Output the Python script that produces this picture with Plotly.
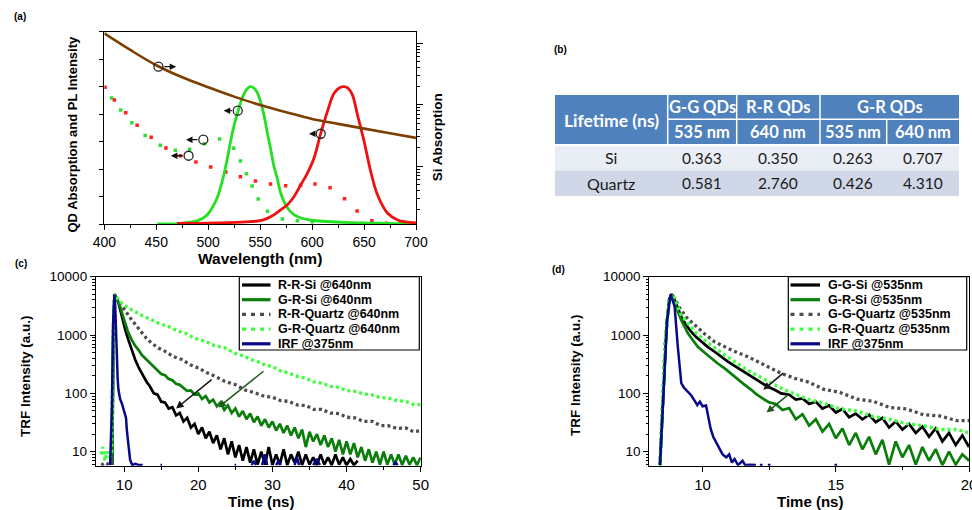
import math
import plotly.graph_objects as go

W, H = 972, 510
FONT = "Liberation Sans, Arial, Helvetica, sans-serif"
TFONT = "Lato, sans-serif"


def X(px):
    return px / W


def Y(py):
    return 1 - py / H


# ================= Panel (a) data =================
si_wl = [400, 425, 450, 475, 500, 525, 550, 575, 600, 625, 650, 675, 700]
si_abs = [1.45e5, 7.8e4, 4.4e4, 2.8e4, 1.93e4, 1.36e4, 9.9e3, 7.6e3, 5.9e3, 4.9e3, 4.1e3, 3.45e3, 2.9e3]

gpl_wl = [451, 470, 486, 493, 499, 504, 508.5, 512, 515, 518.5, 521.5, 525, 528, 531, 534, 537.5,
          540.7, 544, 547, 550, 553.5, 557, 560, 563, 566.5, 570, 576, 582.5, 590, 598.6, 610, 630,
          655, 680, 700]
gpl = [0.0, 0.003, 0.017, 0.035, 0.066, 0.12, 0.187, 0.27, 0.357, 0.48, 0.6, 0.72, 0.80, 0.88, 0.94,
       0.985, 1.0, 0.99, 0.96, 0.90, 0.80, 0.66, 0.55, 0.43, 0.33, 0.22, 0.12, 0.068, 0.042, 0.029,
       0.02, 0.012, 0.007, 0.003, 0.002]

rpl_wl = [470, 500, 520, 540, 550, 556.8, 563.2, 569.6, 576, 582.5, 589, 595.4, 601.8, 608.3, 614.7,
          621, 626, 630.2, 634.5, 638.8, 643.7, 650.1, 656.5, 663, 672.7, 682.3, 690, 700]
rpl = [0.004, 0.006, 0.010, 0.017, 0.024, 0.041, 0.066, 0.102, 0.138, 0.199, 0.284, 0.369, 0.478,
       0.660, 0.818, 0.950, 0.990, 1.000, 0.990, 0.940, 0.794, 0.600, 0.380, 0.211, 0.078, 0.029,
       0.015, 0.008]

gabs_wl = [407.1, 415.8, 426.5, 439.3, 453.9, 468.4, 482.1, 496.6, 511.0, 524.6, 531.0, 536.8,
           542.3, 548.1, 557.1, 571.3, 585.8, 600.2]
gabs = [0.917, 0.830, 0.738, 0.645, 0.573, 0.537, 0.544, 0.585, 0.619, 0.551, 0.459, 0.366, 0.277,
        0.182, 0.092, 0.036, 0.024, 0.017]

rabs_wl = [400.7, 409.7, 420.6, 431.6, 445.1, 459.3, 473.4, 488.2, 502.4, 516.9, 531.0, 545.5, 560.0,
           574.5, 589.0, 602.8, 617.3, 631.2, 643.3, 657.5, 671.7, 685.5]
rabs = [0.995, 0.903, 0.810, 0.719, 0.631, 0.553, 0.497, 0.451, 0.415, 0.379, 0.344, 0.313, 0.291,
        0.279, 0.282, 0.291, 0.264, 0.184, 0.095, 0.024, 0.005, 0.002]

# open-circle markers pointing to their axis
circ_si_wl = [452.1]
circ_si = [4.17e4]
circ_si_head = [469.2]
circ_wl = [528.4, 495.3, 481.1, 608.3]
circ_val = [0.825, 0.614, 0.497, 0.657]
circ_head = [514.9, 478.6, 464.1, 597.0]

# ================= Panel (b) table =================
tbl_corner = "Lifetime (ns)"
tbl_groups = ["G-G QDs", "R-R QDs", "G-R QDs"]
tbl_wls = ["535 nm", "640 nm", "535 nm", "640 nm"]
tbl_rows = ["Si", "Quartz"]
life_si = [0.363, 0.350, 0.263, 0.707]
life_quartz = [0.581, 2.760, 0.426, 4.310]

# ================= Panel (c) data =================
rr_si_t = [8.40, 8.55, 8.70, 9.00, 9.23, 9.50, 9.90, 10.20, 10.58, 11.00, 11.48, 12.00,
           12.5, 13.0, 13.5, 14.0, 14.5, 15.0, 15.5, 16.0, 16.5, 17.0, 17.5, 18.0, 18.5, 19.0,
           19.5, 20.0, 20.5, 21.0, 21.5, 22.0, 22.5, 23.0, 23.5, 24.0, 24.5, 25.0, 25.5, 26.0,
           26.5, 27.0, 27.5, 28.0, 28.5, 29.0, 29.5, 30.0, 30.5, 31.0, 31.5, 32.0, 32.5, 33.0,
           33.5, 34.0, 34.5, 35.0, 35.5, 36.0, 36.5, 37.0, 37.5, 38.0, 38.5, 39.0, 39.5, 40.0,
           40.5, 41.0, 41.5]
rr_si = [5.9, 1500, 5000, 4300, 3600, 2600, 1600, 1150, 820, 560, 380, 270,
         205, 160, 130, 100, 95, 72, 70, 55, 58, 42, 46, 33, 38, 26, 30, 20, 26, 17, 22, 14, 19,
         11, 17, 9, 15, 8, 13, 7, 12, 6.5, 11, 6, 10, 6, 12, 5.9, 9, 6, 11, 5.9, 9, 6.5, 10, 5.9,
         9, 6, 8, 5.9, 9, 6, 8, 5.9, 9, 6, 8, 5.9, 7.5, 5.9, 7]

gr_si_c_t = [8.40, 8.55, 8.70, 9.00, 9.46, 9.80, 10.13, 10.50, 11.04, 11.50, 12.00, 12.39, 13.00,
             13.50, 14.18, 14.50, 15.00, 15.50, 15.97, 16.50, 17.00, 17.50, 18.00,
             18.5, 19.0, 19.5, 20.0, 20.5, 21.0, 21.5, 22.0, 22.5, 23.0, 23.5, 24.0, 24.5, 25.0,
             25.5, 26.0, 26.5, 27.0, 27.5, 28.0, 28.5, 29.0, 29.5, 30.0, 30.5, 31.0, 31.5, 32.0,
             32.5, 33.0, 33.5, 34.0, 34.5, 35.0, 35.5, 36.0, 36.5, 37.0, 37.5, 38.0, 38.5, 39.0,
             39.5, 40.0, 40.5, 41.0, 41.5, 42.0, 42.5, 43.0, 43.5, 44.0, 44.5, 45.0, 45.5, 46.0,
             46.5, 47.0, 47.5, 48.0, 48.5, 49.0, 49.5, 50.0]
gr_si_c = [5.9, 1500, 5000, 4200, 3050, 2200, 1585, 1150, 820, 650, 540, 454, 380, 330, 268, 255,
           215, 205, 178, 168, 146, 140, 122,
           110, 112, 95, 100, 80, 90, 70, 78, 60, 70, 52, 62, 46, 55, 40, 50, 36, 45, 32, 40,
           28, 36, 26, 33, 23, 30, 21, 28, 19, 26, 17, 24, 12, 22, 15, 20, 13, 19, 12, 17,
           10, 16, 9, 15, 9, 14, 8, 12, 7, 11, 6.5, 10, 6, 10, 6, 9, 6, 9, 5.9, 8.5, 6, 8, 5.9, 8]

rr_q_t = [6.9, 7.5, 8.0, 8.3, 8.5, 8.7, 9.0, 9.23, 9.6, 10.13, 10.6, 11.04, 11.7, 12.39, 13.0,
          13.73, 14.6, 15.53, 16.6, 17.78, 18.9, 20.02, 21.1, 22.27, 23.6, 24.96, 26.3, 27.66,
          28.9, 30.0, 31.1, 32.15, 33.4, 34.5, 35.6, 36.65, 37.8, 39.0, 40.0, 41.14, 42.3, 43.5,
          44.6, 45.6, 46.8, 48.0, 49.0, 50.0]
rr_q = [5.9, 6.5, 5.9, 6, 600, 5000, 4300, 4000, 3300, 2700, 2150, 1800, 1420, 1070, 880, 720,
        600, 525, 430, 380, 310, 272, 228, 196, 160, 142, 114, 102, 89, 86, 75, 73, 63, 62, 53,
        53, 46, 45, 39, 38, 33, 33, 28, 28, 25, 25.5, 22, 23]

gr_q_c_t = [6.9, 7.1, 7.4, 7.7, 8.0, 8.3, 8.5, 8.7, 9.2, 9.69, 10.5, 11.48, 12.6, 13.73, 14.8,
            15.97, 17.1, 18.22, 19.5, 20.92, 22.2, 23.6, 24.9, 26.3, 27.1, 28.0, 29.0, 30.0, 31.0,
            32.15, 33.3, 34.5, 35.5, 36.65, 37.8, 39.0, 40.0, 41.14, 42.3, 43.5, 44.5, 45.6, 46.8,
            48.0, 49.0, 50.0]
gr_q_c = [9, 12, 7, 10, 8, 9, 900, 5000, 4000, 3490, 2950, 2510, 2100, 1806, 1560, 1400, 1190,
          1080, 880, 780, 660, 600, 490, 430, 380, 350, 305, 290, 245, 225, 196, 182, 158, 150,
          132, 127, 112, 108, 98, 94, 85, 83, 75, 73, 65, 64]

irf_c_t = [8.10, 8.35, 8.50, 8.62, 8.69, 8.80, 8.90, 9.00, 9.12, 9.23, 9.45, 9.69, 9.90, 10.13,
           10.25, 10.36, 10.47, 10.58, 10.70, 10.80, 10.95, 11.10, 11.5, 12.0, 12.5, None,
           14.9, 15.1, None, 24.9, 25.1, None, 27.2, 27.5, 27.8, None, 28.6, 29.0, 29.3, None,
           30.5, 30.8, 31.1, None, 33.0, 33.3, 33.6, None, 35.5, 36.0, 36.4, None, 46.3, 46.6,
           46.9]
irf_c = [5.9, 60, 1500, 4200, 5000, 3000, 1000, 325, 180, 115, 80, 67, 55, 45, 38, 23.5, 18, 12,
         9, 7.3, 6.5, 5.9, 6.2, 5.9, 5.9, None,
         5.9, 5.9, None, 5.9, 5.9, None, 5.9, 7, 5.9, None, 5.9, 9, 5.9, None,
         5.9, 7, 5.9, None, 5.9, 8, 5.9, None, 5.9, 7.5, 5.9, None, 5.9, 6.5, 5.9]

# ================= Panel (d) data =================
gg_si_t = [8.40, 8.55, 8.65, 8.75, 8.85, 8.95, 9.07, 9.20, 9.38, 9.57, 9.75, 9.95, 10.2, 10.45,
           10.7, 10.95, 11.2, 11.45, 11.7, 11.95, 12.2, 12.45, 12.7, 12.95,
           13.25, 13.5, 13.75, 14.0, 14.25, 14.5, 14.75, 15.0, 15.25, 15.5, 15.75, 16.0, 16.25,
           16.5, 16.75, 17.0, 17.25, 17.5, 17.75, 18.0, 18.25, 18.5, 18.75, 19.0, 19.25, 19.5,
           19.75, 20.0]
gg_si = [5.9, 150, 1500, 4200, 5000, 4000, 2900, 2050, 1500, 1140, 930, 767, 620, 517, 420, 350,
         295, 251, 215, 181, 155, 130, 115, 100,
         95, 78, 82, 66, 72, 55, 62, 47, 54, 39, 45, 36, 43, 32, 38, 26, 33, 24, 30, 21, 27, 18,
         25, 15, 21, 13, 19, 12]

gr_si_d_t = [8.40, 8.55, 8.65, 8.75, 8.85, 8.95, 9.07, 9.20, 9.32, 9.45, 9.63, 9.82, 10.07, 10.32,
             10.57, 10.83, 11.08, 11.33, 11.58, 11.83, 12.0,
             12.25, 12.5, 12.75, 13.0, 13.25, 13.5, 13.75, 14.0, 14.25, 14.5, 14.75, 15.0, 15.25,
             15.5, 15.75, 16.0, 16.25, 16.5, 16.75, 17.0, 17.25, 17.5, 17.75, 18.0, 18.25, 18.5,
             18.75, 19.0, 19.25, 19.5, 19.75, 20.0]
gr_si_d = [5.9, 150, 1500, 4200, 5000, 3500, 2500, 1800, 1400, 1070, 820, 630, 500, 400, 325, 268,
           215, 170, 140, 115, 98,
           82, 70, 66, 52, 56, 36, 44, 28, 36, 22, 30, 17, 25, 13, 21, 11, 18, 9, 16, 6, 15, 8,
           13, 6, 12, 7, 11, 5.9, 10, 6, 9, 7]

gg_q_t = [8.4, 8.6, 8.75, 8.85, 9.0, 9.14, 9.4, 9.7, 10.07, 10.45, 11.08, 11.7, 12.33, 12.95,
          13.46, 14.0, 14.53, 15.15, 15.79, 16.4, 17.04, 17.65, 18.29, 18.9, 19.55, 20.0]
gg_q = [5.9, 800, 4000, 5000, 3800, 2900, 2000, 1480, 1050, 767, 553, 425, 305, 220, 181, 155, 118,
        104, 80, 73, 57, 54, 43, 41, 34, 34]

gr_q_d_t = [8.4, 8.6, 8.75, 8.85, 9.0, 9.2, 9.45, 9.75, 10.07, 10.45, 10.83, 11.2, 11.58, 11.95,
            12.33, 12.7, 13.08, 13.5, 14.0, 14.53, 15.15, 15.79, 16.4, 17.04, 17.65, 18.29, 18.9,
            19.55, 20.0]
gr_q_d = [5.9, 800, 4000, 5000, 3600, 2200, 1585, 1100, 820, 600, 454, 350, 268, 215, 170, 140, 115,
          97, 78, 69, 54, 50, 40, 36, 30, 28, 24, 24, 21]

irf_d_t = [8.40, 8.50, 8.57, 8.67, 8.80, 8.95, 9.07, 9.20, 9.30, 9.45, 9.57, 9.70, 9.80, 9.90,
           10.0, 10.13, 10.2, 10.3, 10.4, 10.5, 10.64, 10.75, 10.89, 11.0, 11.1, 11.2, 11.33, 11.5,
           11.6, 11.8, 12.0, None, 12.15, 12.25, None, 12.45, 12.55, None, 14.95, 15.05]
irf_d = [5.9, 60, 170, 1800, 5000, 3100, 630, 150, 125, 105, 93, 75, 63, 72, 60, 62, 40, 25, 18, 15,
         11.5, 9, 8, 9, 6.5, 7.5, 5.9, 7, 5.9, 6, 5.9, None, 5.9, 5.9, None, 5.9, 5.9, None, 5.9,
         5.9]

labels_c = ["R-R-Si @640nm", "G-R-Si @640nm", "R-R-Quartz @640nm", "G-R-Quartz @640nm", "IRF @375nm"]
labels_d = ["G-G-Si @535nm", "G-R-Si @535nm", "G-G-Quartz @535nm", "G-R-Quartz @535nm", "IRF @375nm"]

C_BLACK, C_GREEN, C_GRAY, C_LIME, C_NAVY = "#000000", "#0a7d0a", "#4d4d4d", "#3cff3c", "#08088a"
series_colors = [C_BLACK, C_GREEN, C_GRAY, C_LIME, C_NAVY]
series_dash = ["solid", "solid", "3px,3px", "3px,3px", "solid"]
series_width = [2.7, 2.7, 3.3, 3.3, 2.5]

fig = go.Figure()

# ---------- (a) traces ----------
fig.add_trace(go.Scatter(x=gabs_wl, y=gabs, mode="markers", xaxis="x", yaxis="y",
                         marker=dict(symbol="square", size=3.5, color="#33dd33")))
fig.add_trace(go.Scatter(x=rabs_wl, y=rabs, mode="markers", xaxis="x", yaxis="y",
                         marker=dict(symbol="square", size=3.5, color="#ff2020")))
fig.add_trace(go.Scatter(x=gpl_wl, y=gpl, mode="lines", xaxis="x", yaxis="y",
                         line=dict(color="#22e022", width=2.8, shape="spline")))
fig.add_trace(go.Scatter(x=rpl_wl, y=rpl, mode="lines", xaxis="x", yaxis="y",
                         line=dict(color="#f01010", width=2.8, shape="spline")))
fig.add_trace(go.Scatter(x=circ_wl, y=circ_val, mode="markers", xaxis="x", yaxis="y",
                         marker=dict(symbol="circle-open", size=9, color="#222",
                                     line=dict(width=1.3))))
fig.add_trace(go.Scatter(x=si_wl, y=si_abs, mode="lines", xaxis="x", yaxis="y2",
                         line=dict(color="#7d3f00", width=2.6, shape="spline")))
fig.add_trace(go.Scatter(x=circ_si_wl, y=circ_si, mode="markers", xaxis="x", yaxis="y2",
                         marker=dict(symbol="circle-open", size=9, color="#222",
                                     line=dict(width=1.3))))

# ---------- (c) and (d) traces ----------
c_series = [(rr_si_t, rr_si), (gr_si_c_t, gr_si_c), (rr_q_t, rr_q), (gr_q_c_t, gr_q_c), (irf_c_t, irf_c)]
d_series = [(gg_si_t, gg_si), (gr_si_d_t, gr_si_d), (gg_q_t, gg_q), (gr_q_d_t, gr_q_d), (irf_d_t, irf_d)]
for (xs, ys), col, dsh, wd in zip(c_series, series_colors, series_dash, series_width):
    n = min(len(xs), len(ys))
    fig.add_trace(go.Scatter(x=xs[:n], y=ys[:n], mode="lines", xaxis="x3", yaxis="y3",
                             line=dict(color=col, width=wd, dash=dsh), connectgaps=False))
for (xs, ys), col, dsh, wd in zip(d_series, series_colors, series_dash, series_width):
    n = min(len(xs), len(ys))
    fig.add_trace(go.Scatter(x=xs[:n], y=ys[:n], mode="lines", xaxis="x4", yaxis="y4",
                             line=dict(color=col, width=wd, dash=dsh), connectgaps=False))

# ---------- axes ----------
ax_common = dict(showline=True, linecolor="black", linewidth=1.3, ticks="outside", tickcolor="black",
                 showgrid=False, zeroline=False, automargin=False,
                 tickfont=dict(family=FONT, size=14, color="black"))
log_minor = [m * 10 ** k for k in range(0, 6) for m in range(2, 10)]

fig.update_layout(
    xaxis=dict(ax_common, domain=[X(104.3), X(416)], anchor="y", range=[400, 700], dtick=50,
               ticklen=5, mirror=True, minor=dict(dtick=25, ticks="outside", ticklen=3, tickcolor="black")),
    yaxis=dict(ax_common, domain=[Y(224), Y(31.7)], anchor="x", range=[0, 1.4], dtick=0.2,
               ticklen=4, showticklabels=False),
    yaxis2=dict(ax_common, overlaying="y", side="right", anchor="x", type="log", range=[2.062, 5.189],
                tickvals=[1e3, 1e4, 1e5], ticklen=6, showticklabels=False,
                minor=dict(tickvals=log_minor, ticks="outside", ticklen=3, tickcolor="black")),
    xaxis3=dict(ax_common, domain=[X(96), X(420.7)], anchor="y3", range=[6.2, 50], dtick=10,
                ticklen=5, mirror=True, tickfont=dict(family=FONT, size=15, color="black"),
                minor=dict(dtick=5, ticks="outside", ticklen=3, tickcolor="black")),
    yaxis3=dict(ax_common, domain=[Y(465.7), Y(276.7)], anchor="x3", type="log", range=[0.76, 4.0],
                tickvals=[10, 100, 1000, 10000], ticktext=["10", "100", "1000", "10000"],
                ticklen=5, mirror=True, tickfont=dict(family=FONT, size=13.5, color="black"),
                minor=dict(tickvals=log_minor, ticks="outside", ticklen=2.5, tickcolor="black")),
    xaxis4=dict(ax_common, domain=[X(649.3), X(969)], anchor="y4", range=[8, 20], dtick=5,
                ticklen=5, mirror=True, tickfont=dict(family=FONT, size=15, color="black"),
                ticklabeloverflow="allow",
                minor=dict(dtick=2.5, ticks="outside", ticklen=3, tickcolor="black")),
    yaxis4=dict(ax_common, domain=[Y(465.7), Y(276.7)], anchor="x4", type="log", range=[0.76, 4.0],
                tickvals=[10, 100, 1000, 10000], ticktext=["10", "100", "1000", "10000"],
                ticklen=5, mirror=True, tickfont=dict(family=FONT, size=13.5, color="black"),
                minor=dict(tickvals=log_minor, ticks="outside", ticklen=2.5, tickcolor="black")),
)

shapes = []
ann = []


def text(px, py, s, size, bold=True, color="black", angle=0, family=FONT, xanchor="center"):
    ann.append(dict(x=X(px), y=Y(py), xref="paper", yref="paper", showarrow=False,
                    text=("<b>%s</b>" % s) if bold else s, textangle=angle,
                    xanchor=xanchor, yanchor="middle",
                    font=dict(family=family, size=size, color=color)))


# panel labels
text(20, 16.5, "(a)", 10)
text(560, 50, "(b)", 10)
text(21, 263.5, "(c)", 10)
text(558, 269, "(d)", 10)

# axis titles
text(72.5, 134, "QD Absorption and PL Intensity", 13, angle=-90)
text(438.3, 137, "Si Absorption", 13.5, angle=-90)
text(260, 258, "Wavelength (nm)", 15.5)
text(25, 376, "TRF Intensity (a.u.)", 13.5, angle=-90)
text(261, 501.5, "Time (ns)", 15)
text(575, 375, "TRF Intensity (a.u.)", 13.5, angle=-90)
text(810, 501.5, "Time (ns)", 15)


# arrows
def arrow(xref, yref, hx, hy, tx, ty, color="black", width=1.3, log=False):
    if log:
        hy, ty = math.log10(hy), math.log10(ty)
    ann.append(dict(x=hx, y=hy, ax=tx, ay=ty, xref=xref, yref=yref, axref=xref, ayref=yref,
                    text="", showarrow=True, arrowhead=2, arrowsize=1, arrowwidth=width,
                    arrowcolor=color, standoff=0, startstandoff=0))


for cx, cy, hx in zip(circ_si_wl, circ_si, circ_si_head):
    arrow("x", "y2", hx, cy, cx + 4.2, cy, color="#111", width=1.3, log=True)
for cx, cy, hx in zip(circ_wl, circ_val, circ_head):
    arrow("x", "y", hx, cy, cx - 4.2, cy, color="#111", width=1.3)

arrow("x3", "y3", 17.0, 55, 22.0, 181, color="#111", width=1.5, log=True)
arrow("x3", "y3", 22.7, 57.5, 29.0, 251, color="#1e5a1e", width=1.5, log=True)
arrow("x4", "y4", 12.28, 115, 13.08, 234, color="#111", width=1.5, log=True)
arrow("x4", "y4", 12.4, 46.8, 13.25, 97.7, color="#1e5a1e", width=1.5, log=True)


# custom legends
def legend(x0, x1, y0, y1, sx0, sx1, tx, labels):
    shapes.append(dict(type="rect", xref="paper", yref="paper", x0=X(x0), x1=X(x1), y0=Y(y1), y1=Y(y0),
                       line=dict(color="black", width=1.2), fillcolor="white", layer="above"))
    for i, lab in enumerate(labels):
        yy = y0 + 8.3 + 14.7 * i
        dash = "4px,5px" if series_dash[i] != "solid" else "solid"
        shapes.append(dict(type="line", xref="paper", yref="paper", x0=X(sx0), x1=X(sx1),
                           y0=Y(yy), y1=Y(yy), layer="above",
                           line=dict(color=series_colors[i], width=3.2, dash=dash)))
        text(tx, yy, lab, 12.5, xanchor="left")


legend(239.3, 419.3, 276.7, 350, 242, 270.5, 275.5, labels_c)
legend(788.3, 966.7, 276.7, 350, 790.5, 820, 825.5, labels_d)

# table (b)
col_edges = [555, 667.7, 736.7, 820, 886.7, 959]
row_edges = [95, 119.3, 145, 170.5, 196]
HEAD, ROW1, ROW2 = "#4f81bd", "#e9edf4", "#d0d8e8"


def rect(x0, x1, y0, y1, fill):
    shapes.append(dict(type="rect", xref="paper", yref="paper", x0=X(x0), x1=X(x1), y0=Y(y1), y1=Y(y0),
                       line=dict(width=0), fillcolor=fill, layer="below"))


def wline(x0, x1, y0, y1, w=1.5):
    shapes.append(dict(type="line", xref="paper", yref="paper", x0=X(x0), x1=X(x1), y0=Y(y0), y1=Y(y1),
                       line=dict(color="white", width=w), layer="below"))


rect(col_edges[0], col_edges[-1], row_edges[0], row_edges[2], HEAD)
rect(col_edges[0], col_edges[-1], row_edges[2], row_edges[3], ROW1)
rect(col_edges[0], col_edges[-1], row_edges[3], row_edges[4], ROW2)
for cx in col_edges[1:4]:
    wline(cx, cx, row_edges[0], row_edges[2])
wline(col_edges[4], col_edges[4], row_edges[1], row_edges[2])
wline(col_edges[1], col_edges[-1], row_edges[1], row_edges[1])
wline(col_edges[0], col_edges[-1], row_edges[2], row_edges[2], 2)

mid = lambda a, b: (a + b) / 2
text(mid(col_edges[0], col_edges[1]), mid(row_edges[0], row_edges[2]), tbl_corner, 17.5, color="white",
     family=TFONT)
group_spans = [(1, 2), (2, 3), (3, 5)]
for g, (a, b) in zip(tbl_groups, group_spans):
    text(mid(col_edges[a], col_edges[b]), mid(row_edges[0], row_edges[1]), g, 16.5, color="white",
         family=TFONT)
for j, wv in enumerate(tbl_wls):
    text(mid(col_edges[j + 1], col_edges[j + 2]), mid(row_edges[1], row_edges[2]), wv, 16.5, color="white",
         family=TFONT)
for i, (rname, vals) in enumerate(zip(tbl_rows, [life_si, life_quartz])):
    yy = mid(row_edges[i + 2], row_edges[i + 3])
    text(mid(col_edges[0], col_edges[1]), yy, rname, 16, bold=False, color="#1a1a1a", family=TFONT)
    for j, v in enumerate(vals):
        text(mid(col_edges[j + 1], col_edges[j + 2]), yy, "%.3f" % v, 15.5, bold=False, color="#1a1a1a",
             family=TFONT)

fig.update_layout(width=W, height=H, autosize=False, margin=dict(l=0, r=0, t=0, b=0),
                  paper_bgcolor="white", plot_bgcolor="rgba(0,0,0,0)", showlegend=False,
                  shapes=shapes, annotations=ann, font=dict(family=FONT, color="black"))

fig.write_html("out.html", config={"displayModeBar": False})

# remove the browser's default page margin so the figure sits at the window origin
with open("out.html", "r", encoding="utf-8") as f:
    html = f.read()
html = html.replace("<head>", "<head><style>html,body{margin:0;padding:0;overflow:hidden;}</style>", 1)
with open("out.html", "w", encoding="utf-8") as f:
    f.write(html)
